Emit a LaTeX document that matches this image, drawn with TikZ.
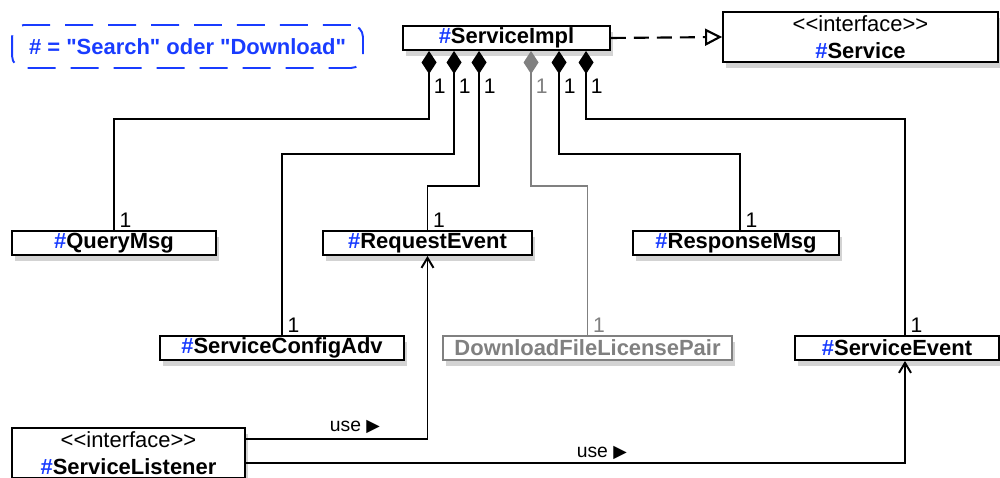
\documentclass[tikz,border=0pt]{standalone}
\usepackage{fontspec}
\setmainfont{Liberation Sans}
\newfontfamily\symfont{DejaVu Sans}
\usetikzlibrary{arrows.meta,calc,shadows}
\definecolor{hashblue}{RGB}{25,60,255}
\newcommand{\hs}{\textcolor{hashblue}{\#}}
\newcommand{\iface}{{<}{<}interface{>}{>}}
\tikzset{
  cls/.style={draw, line width=1.1pt, fill=white, inner sep=0pt, minimum height=0.48cm,
    font=\bfseries\fontsize{12.5}{15}\selectfont, align=center,
    drop shadow={opacity=0.35, shadow xshift=0.06cm, shadow yshift=-0.12cm}},
  comp/.style={line width=1.1pt, {Diamond[length=0.46cm,width=0.3cm]}-},
  mult/.style={font=\fontsize{12}{14}\selectfont, inner sep=1pt},
  usearrow/.style={line width=1.1pt, -{Straight Barb[length=0.2cm,width=0.24cm]}},
  uselbl/.style={font=\fontsize{11}{13}\selectfont, inner sep=1pt},
}
\begin{document}
\begin{tikzpicture}[x=0.02cm, y=-0.02cm]
\useasboundingbox (0,0) rectangle (1000,477);

\node[draw=hashblue, line width=1.1pt, rounded corners=0.24cm, dash pattern=on 0.56cm off 0.3cm,
  minimum width=7.02cm, minimum height=0.86cm, text=hashblue, font=\bfseries\fontsize{12.5}{15}\selectfont]
  (note) at (187.5, 46.5) {\# = \textquotedbl Search\textquotedbl\ oder \textquotedbl Download\textquotedbl};

\node[cls, minimum width=4.14cm] (impl) at (506.5, 38) {\hs ServiceImpl};
\node[cls, minimum width=5.5cm, minimum height=1cm] (service) at (860.5, 37)
  {{\mdseries \iface}\\ \hs Service};

\node[cls, minimum width=4.08cm] (query) at (114, 243) {\hs QueryMsg};
\node[cls, minimum width=4.18cm] (reqevt) at (427.5, 243) {\hs RequestEvent};
\node[cls, minimum width=4.12cm] (resp) at (736, 243) {\hs ResponseMsg};

\node[cls, minimum width=4.88cm] (cfgadv) at (282, 348) {\hs ServiceConfigAdv};
\node[cls, minimum width=5.78cm, draw=gray, text=gray] (dlpair) at (587.5, 348) {DownloadFileLicensePair};
\node[cls, minimum width=4.08cm] (sevent) at (897, 348) {\hs ServiceEvent};

\node[cls, minimum width=4.66cm, minimum height=1cm] (listener) at (128.5, 453)
  {{\mdseries \iface}\\ \hs ServiceListener};

\draw[line width=1.2pt, dash pattern=on 0.3cm off 0.16cm, -{Triangle[open,length=0.34cm,width=0.34cm]}]
  (impl.east) -- (service.west);

\draw[comp] ($(impl.south west)+(27,0)$) -- ++(0,68)
  node[mult, at start, anchor=north west, xshift=0.04cm, yshift=-0.5cm] {1}
  -| (query.north) node[mult, at end, anchor=south west, xshift=0.06cm] {1};
\draw[comp] ($(impl.south west)+(52,0)$) -- ++(0,103)
  node[mult, at start, anchor=north west, xshift=0.04cm, yshift=-0.5cm] {1}
  -| (cfgadv.north) node[mult, at end, anchor=south west, xshift=0.06cm] {1};
\draw[comp] ($(impl.south west)+(77,0)$) -- ++(0,135)
  node[mult, at start, anchor=north west, xshift=0.04cm, yshift=-0.5cm] {1}
  -| (reqevt.north) node[mult, at end, anchor=south west, xshift=0.06cm] {1};
\draw[comp, gray] ($(impl.south west)+(129,0)$) -- ++(0,135)
  node[mult, at start, anchor=north west, xshift=0.04cm, yshift=-0.5cm] {1}
  -| (dlpair.north) node[mult, at end, anchor=south west, xshift=0.06cm] {1};
\draw[comp] ($(impl.south west)+(157,0)$) -- ++(0,103)
  node[mult, at start, anchor=north west, xshift=0.04cm, yshift=-0.5cm] {1}
  -| ($(resp.north)+(4,0)$) node[mult, at end, anchor=south west, xshift=0.06cm] {1};
\draw[comp] ($(impl.south west)+(184,0)$) -- ++(0,68)
  node[mult, at start, anchor=north west, xshift=0.04cm, yshift=-0.5cm] {1}
  -| ($(sevent.north)+(8,0)$) node[mult, at end, anchor=south west, xshift=0.06cm] {1};

\draw[usearrow] ($(listener.north east)+(0,12)$) -| (reqevt.south)
  node[uselbl, pos=0.3, anchor=south, yshift=0.06cm] {use {\symfont\fontsize{10}{12}\selectfont ▶}};
\draw[usearrow] ($(listener.north east)+(0,36)$) -| ($(sevent.south)+(8,0)$)
  node[uselbl, pos=0.27, anchor=south, yshift=0.01cm] {use {\symfont\fontsize{10}{12}\selectfont ▶}};
\end{tikzpicture}
\end{document}
